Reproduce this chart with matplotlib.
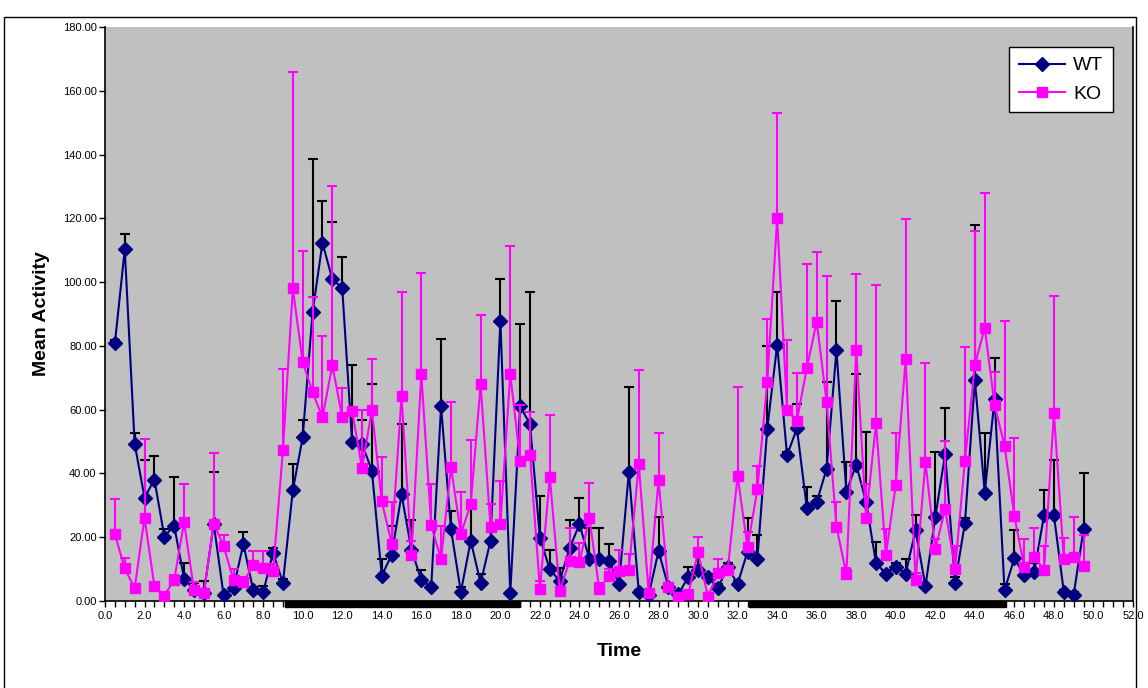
import numpy as np
import matplotlib
matplotlib.use("Agg")
import matplotlib.pyplot as plt
import matplotlib.transforms as mtransforms
from matplotlib.patches import Rectangle
from matplotlib.lines import Line2D

plt.rcParams['font.family'] = ['Liberation Sans', 'DejaVu Sans']

# sampling times (h), every half hour
time = np.arange(0.5, 50.0, 0.5)

wt_mean = [80.8, 110.3, 49.3, 32.4, 38.1, 20.2, 23.6, 7.0, 3.4, 2.6,
           24.2, 1.8, 4.1, 17.9, 3.3, 2.7, 15.2, 5.7, 34.7, 51.3,
           90.6, 112.3, 100.9, 98.1, 49.8, 49.2, 40.9, 7.9, 14.5, 33.4,
           16.1, 6.6, 4.3, 61.0, 22.6, 2.8, 18.9, 5.6, 18.9, 87.9,
           2.4, 61.1, 55.4, 19.8, 9.9, 6.3, 16.5, 24.1, 13.2, 13.2,
           12.6, 5.3, 40.5, 2.8, 1.8, 15.7, 4.3, 2.1, 7.5, 9.6,
           7.5, 4.0, 10.7, 5.3, 15.5, 13.2, 54.0, 80.3, 45.7, 54.1,
           29.2, 31.0, 41.4, 78.6, 34.3, 42.8, 31.0, 11.9, 8.6, 10.8,
           8.6, 22.2, 4.6, 26.3, 46.2, 5.7, 24.5, 69.3, 34.0, 63.4,
           3.4, 13.4, 8.0, 9.0, 26.9, 26.9, 2.9, 2.0, 22.6]
wt_err = [0.9, 4.8, 3.4, 11.8, 7.5, 2.4, 15.4, 4.8, 2.3, 3.7,
          16.2, 0.5, 1.0, 3.7, 1.0, 2.1, 1.3, 1.3, 8.4, 5.6,
          47.9, 13.1, 17.9, 9.9, 24.3, 7.7, 27.2, 5.3, 9.0, 22.0,
          9.2, 3.2, 0.5, 21.1, 5.6, 1.7, 11.4, 3.0, 3.4, 13.1,
          0.3, 25.8, 41.4, 13.1, 6.1, 4.1, 8.9, 8.3, 9.8, 9.8,
          5.4, 0.5, 26.7, 0.5, 1.0, 10.7, 0.9, 0.5, 3.3, 4.5,
          1.0, 1.2, 1.2, 1.0, 10.4, 7.6, 26.0, 16.6, 0.9, 7.6,
          6.5, 2.0, 27.3, 15.4, 9.4, 28.3, 22.1, 6.5, 1.0, 1.0,
          4.7, 4.7, 0.7, 20.3, 14.4, 1.8, 1.4, 48.6, 18.6, 12.7,
          1.8, 8.9, 0.8, 2.8, 7.9, 17.3, 0.7, 0.7, 17.4]

ko_mean = [20.9, 10.2, 4.0, 26.1, 4.6, 1.7, 6.6, 24.7, 3.5, 2.6,
           24.3, 17.2, 6.6, 6.0, 11.2, 10.3, 9.3, 47.3, 98.0, 74.9,
           65.5, 57.6, 73.9, 57.6, 59.5, 41.7, 59.9, 31.3, 18.0, 64.2,
           14.5, 71.2, 23.7, 13.1, 42.1, 21.0, 30.4, 67.9, 23.3, 24.3,
           71.2, 44.0, 45.9, 3.8, 38.9, 3.2, 12.5, 12.1, 26.1, 3.8,
           7.9, 9.3, 9.7, 43.0, 2.6, 37.8, 4.5, 1.4, 2.1, 15.4,
           1.3, 8.7, 9.8, 39.3, 16.8, 35.0, 68.7, 120.1, 59.9, 56.6,
           73.0, 87.6, 62.4, 23.3, 8.4, 78.7, 26.1, 55.7, 14.4, 36.5,
           75.8, 6.5, 43.5, 16.3, 28.9, 10.1, 44.0, 74.0, 85.7, 61.4,
           48.7, 26.6, 10.6, 13.9, 9.7, 58.9, 13.3, 13.9, 11.1]
ko_err = [11.1, 3.4, 1.3, 24.7, 1.1, 0.3, 1.4, 12.1, 2.5, 0.5,
          22.2, 3.6, 3.3, 1.5, 4.5, 5.4, 2.4, 25.5, 67.9, 35.0,
          29.7, 25.5, 56.3, 9.2, 0.5, 18.2, 15.9, 13.8, 13.0, 32.6,
          4.4, 31.7, 13.0, 10.4, 20.4, 13.3, 20.0, 21.9, 7.0, 13.3,
          40.2, 17.5, 13.3, 2.5, 19.4, 1.0, 10.5, 6.0, 11.0, 1.8,
          2.0, 6.7, 4.9, 29.3, 0.6, 14.9, 0.5, 0.3, 0.3, 4.8,
          0.3, 4.5, 1.2, 27.9, 4.8, 7.4, 19.7, 33.0, 21.9, 14.8,
          32.6, 21.8, 39.6, 7.6, 1.9, 23.7, 10.6, 43.5, 8.2, 16.3,
          44.1, 2.2, 31.2, 3.0, 21.4, 7.3, 35.8, 42.1, 42.1, 10.5,
          39.1, 24.6, 8.7, 9.1, 7.6, 36.8, 6.5, 12.5, 9.6]

# dark phases marked under the axis
dark_phases = [(9.1, 21.0), (32.6, 45.6)]

WT_COL = '#000080'
KO_COL = '#FF00FF'

fig = plt.figure(figsize=(11.48, 6.88), dpi=100)
ax = fig.add_axes([105 / 1148, 87 / 688, 1028 / 1148, 574 / 688])
ax.set_facecolor('#C0C0C0')

zeros = np.zeros(len(time))
ax.errorbar(time, wt_mean, yerr=[zeros, wt_err], color=WT_COL, ecolor='black',
            elinewidth=1.5, capsize=3.6, capthick=1.5, lw=1.5,
            marker='D', ms=6.8, mfc=WT_COL, mec=WT_COL, zorder=3)
ax.errorbar(time, ko_mean, yerr=[zeros, ko_err], color=KO_COL, ecolor=KO_COL,
            elinewidth=1.5, capsize=3.6, capthick=1.5, lw=1.5,
            marker='s', ms=6.5, mfc=KO_COL, mec=KO_COL, zorder=4)

ax.set_xlim(0, 52)
ax.set_ylim(0, 180)
ax.set_xticks(np.arange(0, 52.1, 2))
ax.set_xticklabels(['%.1f' % v for v in np.arange(0, 52.1, 2)])
ax.set_xticks(np.arange(0, 52.1, 0.5), minor=True)
ax.set_yticks(np.arange(0, 181, 20))
ax.set_yticklabels(['%.2f' % v for v in np.arange(0, 181, 20)])
ax.tick_params(axis='both', which='both', direction='out', labelsize=8, width=1,
               color='black')
ax.tick_params(axis='x', which='major', length=4, pad=3)
ax.tick_params(axis='x', which='minor', length=4)
ax.tick_params(axis='y', length=4, pad=2)

ax.spines['top'].set_visible(False)
for side in ['left', 'bottom', 'right']:
    ax.spines[side].set_color('black')
    ax.spines[side].set_linewidth(1.2)

trans = mtransforms.blended_transform_factory(ax.transData, ax.transAxes)
for start, end in dark_phases:
    ax.add_patch(Rectangle((start, -0.011), end - start, 0.011, transform=trans,
                           color='black', clip_on=False, zorder=5))

ax.set_xlabel('Time', fontsize=14, fontweight='bold', labelpad=16)
ax.set_ylabel('Mean Activity', fontsize=14, fontweight='bold', labelpad=9)

handles = [Line2D([], [], color=WT_COL, lw=1.5, marker='D', ms=6.8, mfc=WT_COL, mec=WT_COL),
           Line2D([], [], color=KO_COL, lw=1.5, marker='s', ms=6.5, mfc=KO_COL, mec=KO_COL)]
leg = ax.legend(handles, ['WT', 'KO'], loc='upper right', bbox_to_anchor=(0.9805, 0.965),
                borderaxespad=0, fontsize=14, frameon=True, fancybox=False,
                edgecolor='black', framealpha=1, handlelength=2.4, borderpad=0.5,
                labelspacing=0.55, handletextpad=0.4)
leg.get_frame().set_linewidth(1.0)

# outer chart frame
fig.patches.append(Rectangle((4 / 1148, -0.01), 1132 / 1148, 1 - 17 / 688 + 0.01,
                             transform=fig.transFigure, fill=False, edgecolor='black',
                             linewidth=1.0))

plt.savefig('out.png', dpi=100)
